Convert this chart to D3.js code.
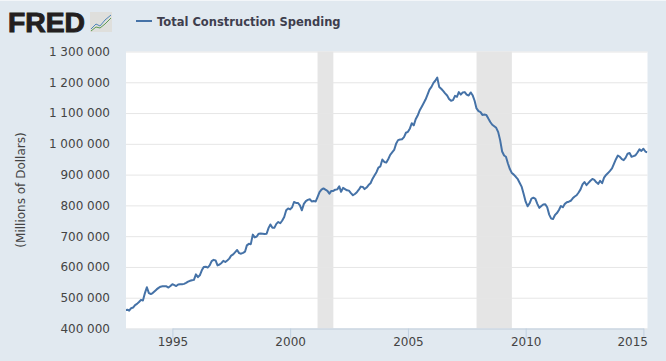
<!DOCTYPE html>
<html>
<head>
<meta charset="utf-8">
<script src="https://cdn.jsdelivr.net/npm/d3@7"></script>
<style>
	html, body { margin: 0; padding: 0; background: #e1e9f0; }
	svg { display: block; }
	text { font-family: "DejaVu Sans", sans-serif; }
</style>
</head>
<body>
<script>
const seriesName = "Total Construction Spending";
const yTitle = "(Millions of Dollars)";

// monthly values, in thousands of the axis unit
const v1993 = [460, 461, 458, 466, 468, 476, 480, 486, 493, 491, 515, 534];
const v1994 = [515, 512, 515, 521, 527, 532, 536, 537, 537, 537, 533, 538];
const v1995 = [544, 541, 538, 543, 544, 544, 545, 548, 552, 555, 557, 558];
const v1996 = [576, 567, 573, 589, 600, 601, 598, 605, 619, 623, 621, 605];
const v1997 = [608, 613, 620, 616, 621, 627, 637, 641, 648, 655, 645, 643];
const v1998 = [646, 650, 670, 675, 674, 705, 696, 699, 708, 709, 708, 707];
const v1999 = [708, 727, 738, 727, 727, 740, 746, 742, 751, 762, 784, 790];
const v2000 = [787, 794, 811, 808, 808, 800, 784, 805, 814, 818, 820, 813];
const v2001 = [814, 813, 827, 843, 851, 855, 851, 847, 838, 847, 847, 851];
const v2002 = [852, 862, 844, 857, 853, 849, 848, 840, 833, 837, 843, 851];
const v2003 = [861, 860, 853, 858, 866, 872, 886, 897, 908, 923, 927, 949];
const v2004 = [941, 939, 950, 964, 972, 980, 1000, 1012, 1014, 1015, 1022, 1036];
const v2005 = [1039, 1050, 1067, 1060, 1080, 1092, 1108, 1120, 1132, 1144, 1160, 1176];
const v2006 = [1185, 1198, 1205, 1215, 1185, 1179, 1172, 1164, 1157, 1146, 1140, 1142];
const v2007 = [1156, 1153, 1168, 1160, 1167, 1168, 1160, 1157, 1167, 1158, 1140, 1115];
const v2008 = [1106, 1103, 1094, 1095, 1094, 1082, 1071, 1062, 1057, 1052, 1038, 1012];
const v2009 = [975, 962, 958, 936, 918, 905, 900, 893, 885, 873, 860, 837];
const v2010 = [812, 797, 806, 822, 825, 821, 805, 792, 798, 803, 804, 794];
const v2011 = [770, 757, 756, 769, 775, 785, 798, 794, 805, 810, 812, 815];
const v2012 = [823, 829, 833, 842, 852, 868, 876, 866, 873, 880, 886, 883];
const v2013 = [875, 870, 880, 872, 890, 899, 905, 912, 920, 935, 950, 962];
const v2014 = [958, 950, 947, 955, 968, 970, 958, 960, 963, 972, 982, 977];
const v2015 = [984, 975, 972];

const yTicks = [400000, 500000, 600000, 700000, 800000, 900000, 1000000, 1100000, 1200000, 1300000];
const xTickYears = [1995, 2000, 2005, 2010, 2015];
const recessions = [
	["2001-03-01", "2001-11-01"],
	["2007-12-01", "2009-06-01"]
];

const values = [].concat(v1993, v1994, v1995, v1996, v1997, v1998, v1999, v2000, v2001, v2002, v2003,
	v2004, v2005, v2006, v2007, v2008, v2009, v2010, v2011, v2012, v2013, v2014, v2015);
const data = values.map((v, i) => ({ date: new Date(Date.UTC(1993, i, 1)), value: v * 1000 }));

const width = 666, height = 361;
const margin = { top: 51.5, right: 18.5, bottom: 32.5, left: 126 };
const plotW = width - margin.left - margin.right;
const plotH = height - margin.top - margin.bottom;

const svg = d3.select("body").append("svg").attr("width", width).attr("height", height);

svg.append("rect").attr("width", width).attr("height", 1).attr("fill", "#f3f6f9");

const x = d3.scaleUtc()
	.domain([new Date(Date.UTC(1995, 0, 1)), new Date(Date.UTC(2015, 0, 1))])
	.range([172.4, 643.4]);
const y = d3.scaleLinear()
	.domain([400000, 1300000])
	.range([height - margin.bottom, margin.top]);

svg.append("rect")
	.attr("x", margin.left).attr("y", margin.top)
	.attr("width", plotW).attr("height", plotH)
	.attr("fill", "white");

svg.append("clipPath").attr("id", "plotClip")
	.append("rect")
	.attr("x", margin.left).attr("y", margin.top)
	.attr("width", plotW).attr("height", plotH);

// recession bands
svg.append("g").selectAll("rect")
	.data(recessions)
	.enter().append("rect")
	.attr("x", d => x(new Date(d[0])))
	.attr("width", d => x(new Date(d[1])) - x(new Date(d[0])))
	.attr("y", margin.top)
	.attr("height", plotH)
	.attr("fill", "#e5e5e5");

const fmt = d => d3.format(",")(d).replace(/,/g, " ");

const yAxis = svg.append("g")
	.attr("transform", `translate(${margin.left},0)`)
	.call(d3.axisLeft(y).tickValues(yTicks).tickFormat(fmt).tickSize(-plotW).tickPadding(16));
yAxis.select(".domain").remove();
yAxis.selectAll("line").attr("stroke", "#e6e6e6").attr("stroke-width", 1);
yAxis.selectAll("text")
	.attr("fill", "#444444").attr("font-size", 12)
	.style("font-family", '"DejaVu Sans", sans-serif');

const xAxis = svg.append("g")
	.attr("transform", `translate(0,${height - margin.bottom})`)
	.call(d3.axisBottom(x)
		.tickValues(xTickYears.map(yr => new Date(Date.UTC(yr, 0, 1))))
		.tickFormat(d3.utcFormat("%Y")).tickSize(10).tickSizeOuter(0).tickPadding(-1));
xAxis.select(".domain").attr("stroke", "#c0d0e0");
xAxis.selectAll("line").attr("stroke", "#c0d0e0");
xAxis.selectAll("text")
	.attr("fill", "#444444").attr("font-size", 12)
	.style("font-family", '"DejaVu Sans", sans-serif');
// last label is pushed back so it stays inside the plot
xAxis.selectAll("text").filter(d => d.getUTCFullYear() === 2015)
	.attr("text-anchor", "end")
	.attr("x", 647.5 - x(new Date(Date.UTC(2015, 0, 1))));

const line = d3.line().x(d => x(d.date)).y(d => y(d.value));
svg.append("path")
	.datum(data)
	.attr("d", line)
	.attr("clip-path", "url(#plotClip)")
	.attr("fill", "none")
	.attr("stroke", "#4572a7")
	.attr("stroke-width", 2)
	.attr("stroke-linejoin", "round");

svg.append("text")
	.attr("transform", "translate(25,190) rotate(-90)")
	.attr("text-anchor", "middle")
	.attr("fill", "#444444")
	.attr("font-size", 12)
	.text(yTitle);

// legend
svg.append("line")
	.attr("x1", 136).attr("x2", 152).attr("y1", 21).attr("y2", 21)
	.attr("stroke", "#4572a7").attr("stroke-width", 2);
svg.append("text")
	.attr("x", 157).attr("y", 26)
	.attr("fill", "#3e3e4e")
	.attr("font-size", 11.5)
	.attr("font-weight", "bold")
	.text(seriesName);

// FRED logo
svg.append("text")
	.attr("x", 8).attr("y", 32)
	.attr("fill", "#231f20")
	.attr("stroke", "#231f20")
	.attr("stroke-width", 1)
	.attr("font-size", 27.5)
	.attr("font-weight", "bold")
	.attr("textLength", 77)
	.attr("lengthAdjust", "spacingAndGlyphs")
	.style("font-family", '"Liberation Sans", sans-serif')
	.text("FRED");
const logo = svg.append("g").attr("transform", "translate(90,12)");
logo.append("rect").attr("width", 22).attr("height", 20).attr("fill", "#dfdfdc");
logo.append("path").attr("d", "M1,17 L6,12 L10,14 L15,8 L21,3").attr("fill", "none").attr("stroke", "#4f86b8");
logo.append("path").attr("d", "M1,19 L6,15 L10,16 L15,12 L21,6").attr("fill", "none").attr("stroke", "#5d9a52");
</script>
</body>
</html>
